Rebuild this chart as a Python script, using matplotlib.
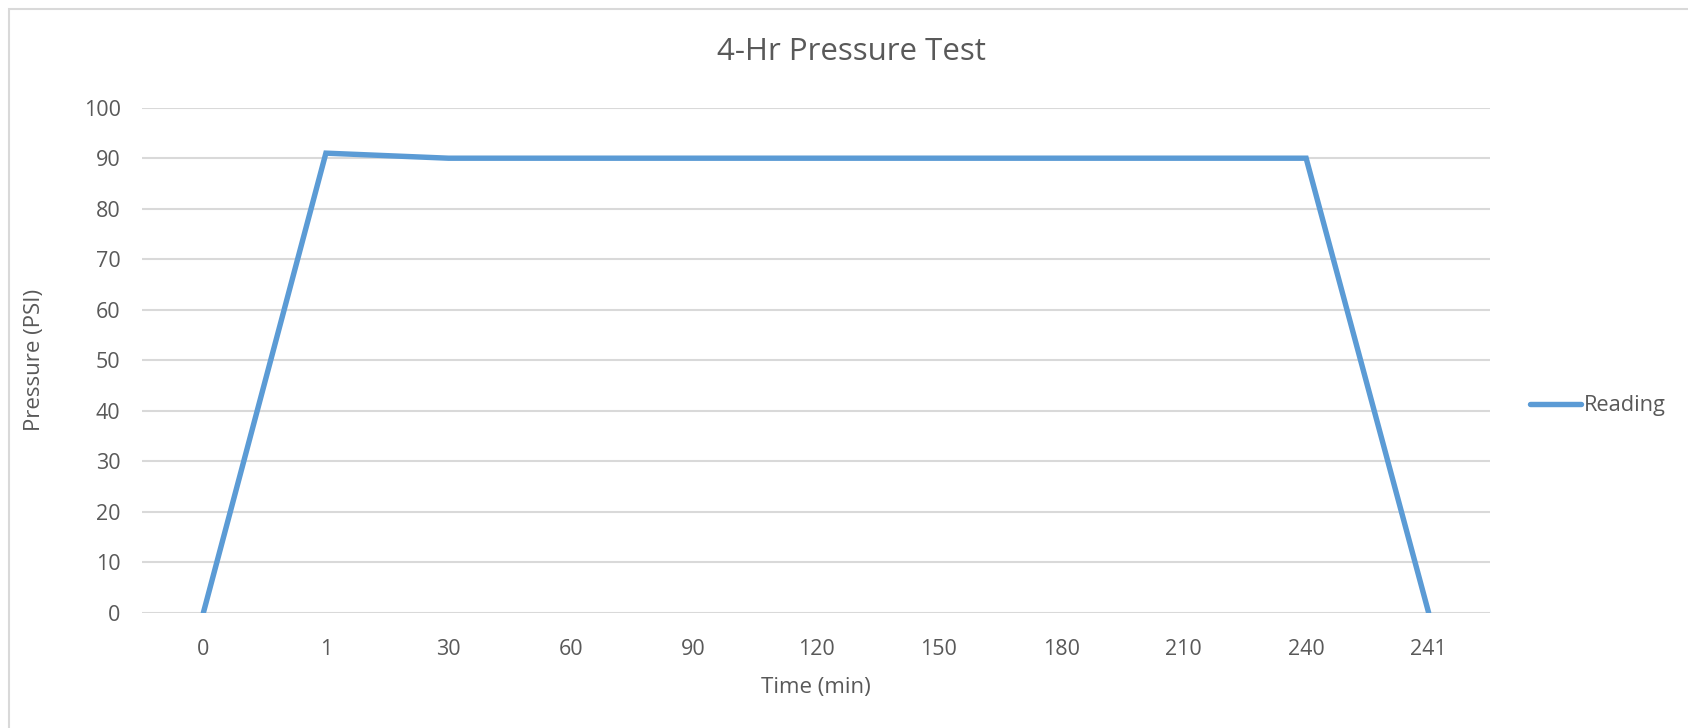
import matplotlib.pyplot as plt
from matplotlib.patches import Rectangle

# dados
tempos = ['0', '1', '30', '60', '90', '120', '150', '180', '210', '240', '241']
pressao = [0, 91, 90, 90, 90, 90, 90, 90, 90, 90, 0]

cinza_txt = '#595959'
cinza_grade = '#D9D9D9'
azul = '#5B9BD5'

plt.rcParams['font.family'] = ['Open Sans', 'DejaVu Sans']

fig = plt.figure(figsize=(16.88, 7.28), dpi=100)
# posicoes medidas na imagem de referencia (escala 1568 x 676)
W, H = 1568, 676
ax = fig.add_axes([132/W, 1 - 569/H, (1384 - 132)/W, (569 - 100)/H])

# borda do grafico (estilo Excel)
fig.patches.append(Rectangle((8/W, -0.2), 1.5, 1.2 - 8/H,
                             transform=fig.transFigure, fill=False,
                             edgecolor=cinza_grade, linewidth=1.5))

x = list(range(len(tempos)))
ax.plot(x, pressao, color=azul, linewidth=3.9, solid_capstyle='round',
        solid_joinstyle='miter', label='Reading', zorder=3)

ax.set_xlim(-0.5, len(tempos) - 0.5)
ax.set_ylim(0, 100)
ax.set_yticks(range(0, 101, 10))
ax.set_xticks(x)
ax.set_xticklabels(tempos)

ax.grid(axis='y', color=cinza_grade, linewidth=1.5)
ax.set_axisbelow(True)
for s in ax.spines.values():
    s.set_visible(False)
ax.tick_params(length=0, labelsize=15.5, colors=cinza_txt)
ax.tick_params(axis='y', pad=15.5)
ax.tick_params(axis='x', pad=19)

ax.set_xlabel('Time (min)', fontsize=16, color=cinza_txt, labelpad=12)
ax.set_ylabel('Pressure (PSI)', fontsize=16, color=cinza_txt, labelpad=28)
# titulo centrado na area do grafico, como no Excel
fig.text(791/W, 1 - 48/H, '4-Hr Pressure Test', fontsize=22.5,
         color=cinza_txt, ha='center', va='center')

leg = ax.legend(loc='center left', bbox_to_anchor=(1.03, 0.41), frameon=False,
                fontsize=15.7, handlelength=2.3, handletextpad=0.15,
                borderpad=0, borderaxespad=0, labelcolor=cinza_txt)

fig.savefig('out.png', dpi=100)
